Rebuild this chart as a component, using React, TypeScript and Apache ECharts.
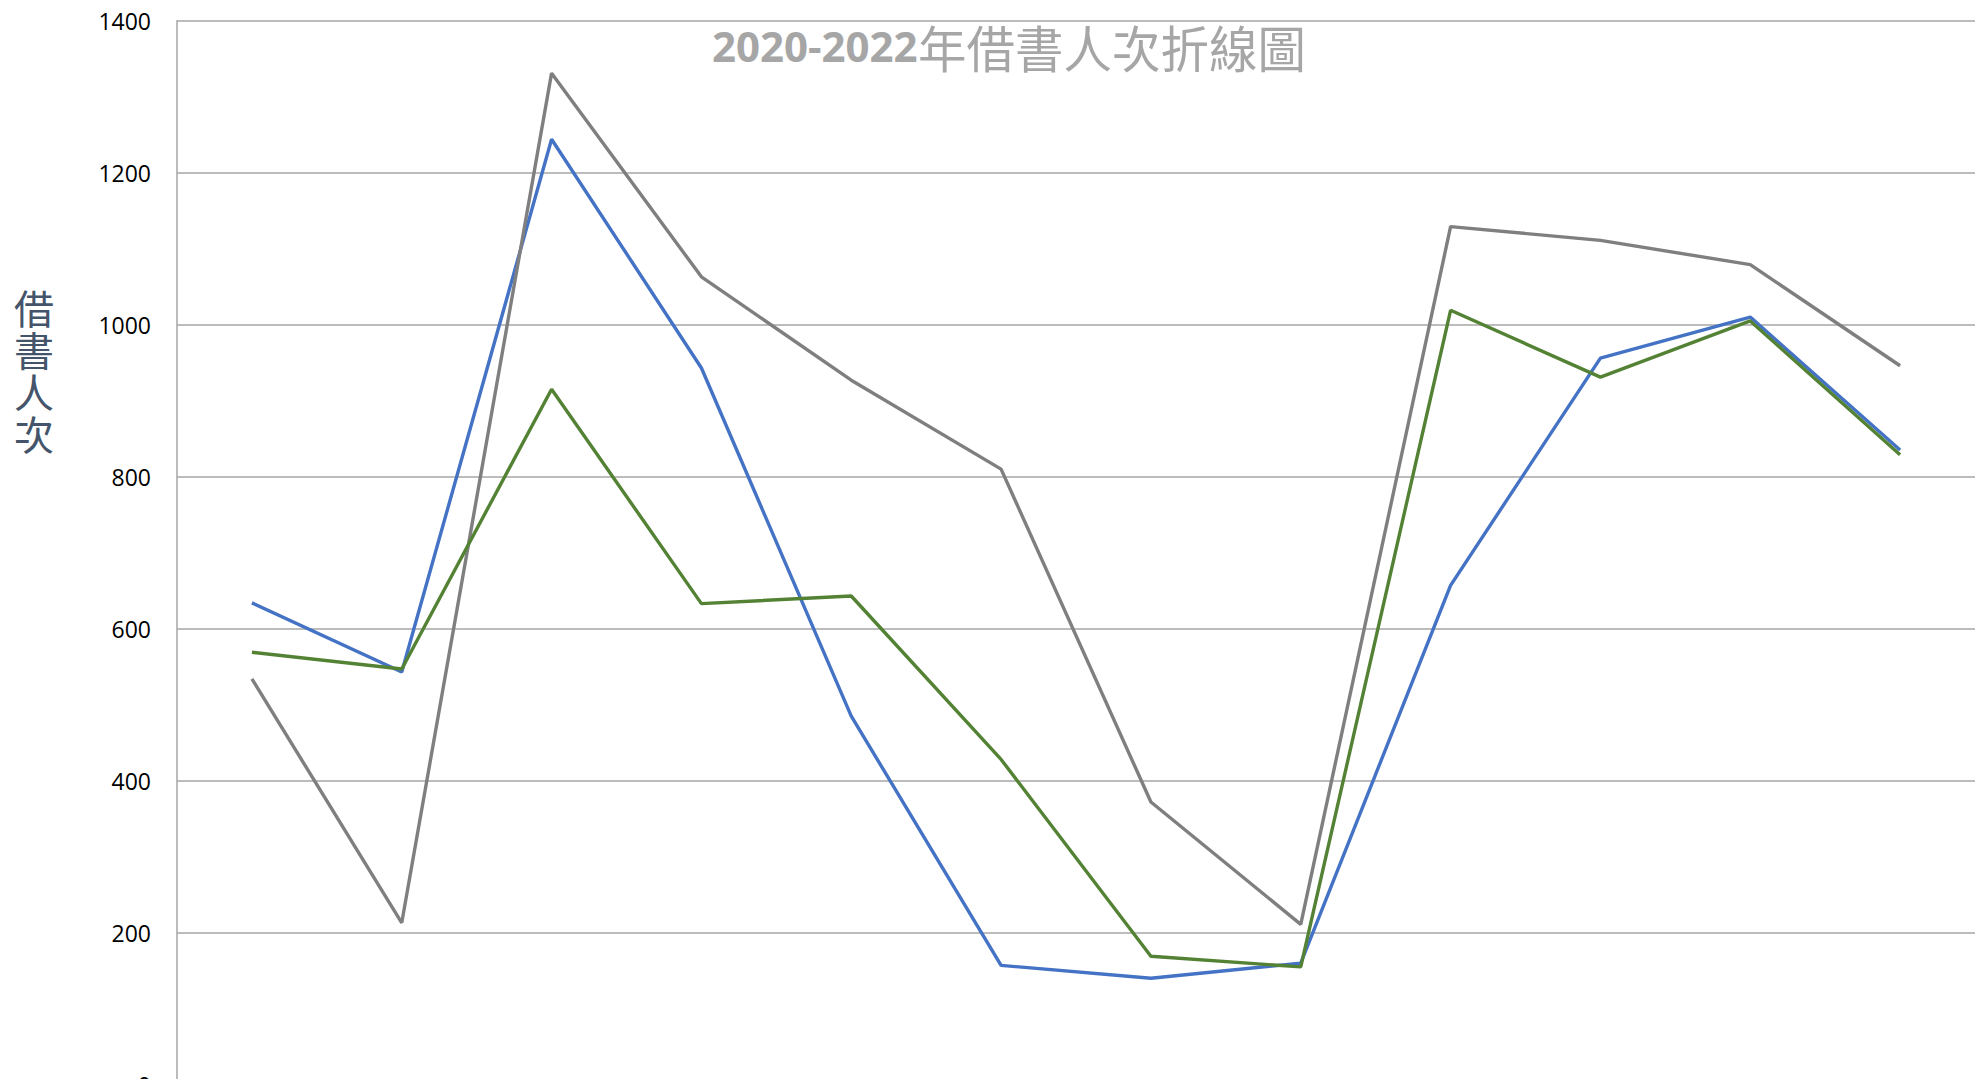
import React, { useEffect, useRef } from "react";
import * as echarts from "echarts";

const months = ["1月", "2月", "3月", "4月", "5月", "6月", "7月", "8月", "9月", "10月", "11月", "12月"];
const seriesNames = ["2020年", "2021年", "2022年"];
const blueValues = [634, 543, 1244, 943, 485, 157, 140, 160, 657, 956, 1010, 835];
const grayValues = [534, 213, 1331, 1063, 927, 810, 372, 211, 1129, 1111, 1079, 946];
const greenValues = [569, 547, 915, 633, 643, 428, 169, 155, 1019, 931, 1005, 829];
const yTicks = { min: 0, max: 1400, interval: 200 };
const titleYears = "2020-2022";
const titleRest = "年借書人次折線圖";
const yAxisTitle = "借書人次";

export default function App() {
  const ref = useRef<HTMLDivElement>(null);
  useEffect(() => {
    document.body.style.margin = "0";
    document.body.style.overflow = "hidden";
    if (!ref.current) return;
    const chart = echarts.init(ref.current, null, { renderer: "svg" });
    const lineStyle = (color: string) => ({ color, width: 3.4 });
    const yTitleChars = yAxisTitle.split("").map((ch, i) => ({
      type: "text",
      x: 34,
      y: 307 + i * 42,
      style: {
        text: ch,
        font: '40px "Noto Sans CJK TC"',
        fill: "#44546A",
        align: "center",
        verticalAlign: "middle",
      },
    }));
    chart.setOption({
      animation: false,
      backgroundColor: "#ffffff",
      graphic: [
        {
          type: "text",
          x: 712,
          y: 45.5,
          style: {
            text: titleYears,
            font: 'bold 42px "Open Sans"',
            fill: "#A6A6A6",
            align: "left",
            verticalAlign: "middle",
          },
        },
        {
          type: "text",
          x: 918,
          y: 46.5,
          scaleX: 0.97,
          style: {
            text: titleRest,
            font: '50px "Noto Sans CJK TC"',
            fill: "#A6A6A6",
            align: "left",
            verticalAlign: "middle",
          },
        },
        ...yTitleChars,
      ],
      grid: { left: 177, right: 0, top: 20.7, bottom: 45.3, containLabel: false },
      xAxis: {
        type: "category",
        data: months,
        boundaryGap: true,
        axisLine: { show: true, lineStyle: { color: "#A6A6A6", width: 1.5 } },
        axisTick: { show: false },
        axisLabel: { show: false },
      },
      yAxis: {
        type: "value",
        min: yTicks.min,
        max: yTicks.max,
        interval: yTicks.interval,
        axisLine: { show: true, lineStyle: { color: "#A6A6A6", width: 1.5 } },
        axisTick: { show: false },
        axisLabel: {
          fontFamily: "Open Sans",
          fontSize: 23,
          color: "#000",
          margin: 26,
          formatter: (v: number) => String(v),
        },
        splitLine: { show: true, lineStyle: { color: "#A6A6A6", width: 1.5 } },
      },
      series: [
        { name: seriesNames[0], type: "line", data: blueValues, showSymbol: false, symbol: "none", lineStyle: lineStyle("#4472C4"), itemStyle: { color: "#4472C4" } },
        { name: seriesNames[2], type: "line", data: grayValues, showSymbol: false, symbol: "none", lineStyle: lineStyle("#7F7F7F"), itemStyle: { color: "#7F7F7F" } },
        { name: seriesNames[1], type: "line", data: greenValues, showSymbol: false, symbol: "none", lineStyle: lineStyle("#548235"), itemStyle: { color: "#548235" } },
      ],
    });
    return () => chart.dispose();
  }, []);
  return (
    <div
      ref={ref}
      style={{ position: "fixed", left: 0, top: 0, width: 1975, height: 1130 }}
    />
  );
}
